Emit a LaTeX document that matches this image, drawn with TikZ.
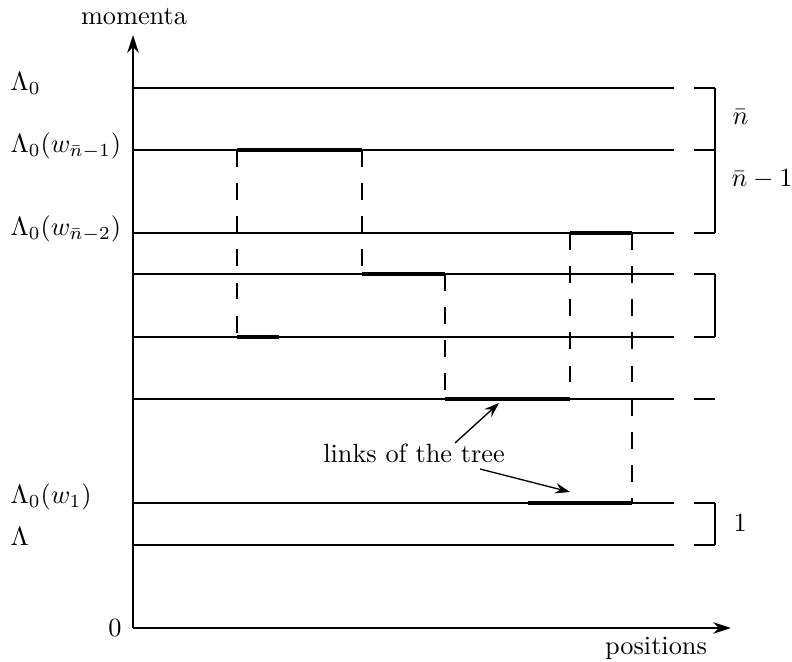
\documentclass[tikz,border=0pt]{standalone}
\usetikzlibrary{arrows.meta}
\begin{document}
\begin{tikzpicture}[x=0.38pt,y=-0.38pt,
  level/.style={line width=0.4pt},
  link/.style={line width=1.2pt},
  jump/.style={line width=0.7pt, dash pattern=on 6.4pt off 6.2pt},
  axis/.style={line width=0.7pt,-{Stealth[length=6.8pt,width=4.4pt,inset=2.2pt]}},
  note/.style={line width=0.5pt,-{Stealth[length=5.7pt,width=4pt,inset=2pt]}},
  lab/.style={inner sep=0pt, anchor=base west},
  brk/.style={line width=0.4pt}]
\useasboundingbox (0,0) rectangle (792,662);
% axes
\coordinate (O) at (133,628);
\coordinate (ytip) at (133,35);
\coordinate (xtip) at (731,628);
\draw[axis] (O) -- (ytip);
\draw[axis] (O) -- (xtip);
\node[inner sep=0pt, anchor=base] (mom) at (134,25) {momenta};
\node[inner sep=0pt, anchor=base] (pos) at (656,655) {positions};
\node[inner sep=0pt, anchor=east] (zero) at (122,628) {$0$};
% levels
\foreach \y/\n in {88/a,150/b,233/c,274/d,337/e,399/f,503/g,545/h}{
  \coordinate (L\n) at (133,\y);
  \coordinate (R\n) at (674,\y);
  \coordinate (S\n) at (694,\y);
  \coordinate (T\n) at (715,\y);
  \draw[level] (L\n) -- (R\n);
  \draw[level] (S\n) -- (T\n);
}
% brackets
\draw[brk] (Ta) -- (Tc);
\draw[brk] (Td) -- (Te);
\draw[brk] (Tg) -- (Th);
\node[lab] (nb) at (732,125) {$\bar n$};
\node[lab] (nb1) at (731,187) {$\bar n-1$};
\node[lab] (one) at (733,532) {$1$};
% left labels
\node[lab] (l0) at (10,91) {$\Lambda_0$};
\node[lab] (l1) at (10,153) {$\Lambda_0(w_{\bar n-1})$};
\node[lab] (l2) at (10,236) {$\Lambda_0(w_{\bar n-2})$};
\node[lab] (l3) at (10,504) {$\Lambda_0(w_1)$};
\node[lab] (l4) at (10,546) {$\Lambda$};
% tree
\coordinate (p1) at (237,150);
\coordinate (p2) at (362,150);
\coordinate (p3) at (237,337);
\coordinate (p4) at (279,337);
\coordinate (p5) at (362,274);
\coordinate (p6) at (445,274);
\coordinate (p7) at (445,399);
\coordinate (p8) at (570,399);
\coordinate (p9) at (570,233);
\coordinate (p10) at (632,233);
\coordinate (p11) at (528,503);
\coordinate (p12) at (632,503);
\draw[jump] (p1) -- (p3);
\draw[jump] (p2) -- (p5);
\draw[jump] (p6) -- (p7);
\draw[jump] (p9) -- (p8);
\draw[jump] (p10) -- (p12);
\draw[link] (p1) -- (p2);
\draw[link] (p3) -- (p4);
\draw[link] (p5) -- (p6);
\draw[link] (p7) -- (p8);
\draw[link] (p9) -- (p10);
\draw[link] (p11) -- (p12);
% annotation
\node[inner sep=0pt, anchor=base] (links) at (414,463) {links of the tree};
\coordinate (a1s) at (455,443);
\coordinate (a1e) at (499,403);
\coordinate (a2s) at (480,469);
\coordinate (a2e) at (570,492);
\draw[note] (a1s) -- (a1e);
\draw[note] (a2s) -- (a2e);
\end{tikzpicture}
\end{document}
